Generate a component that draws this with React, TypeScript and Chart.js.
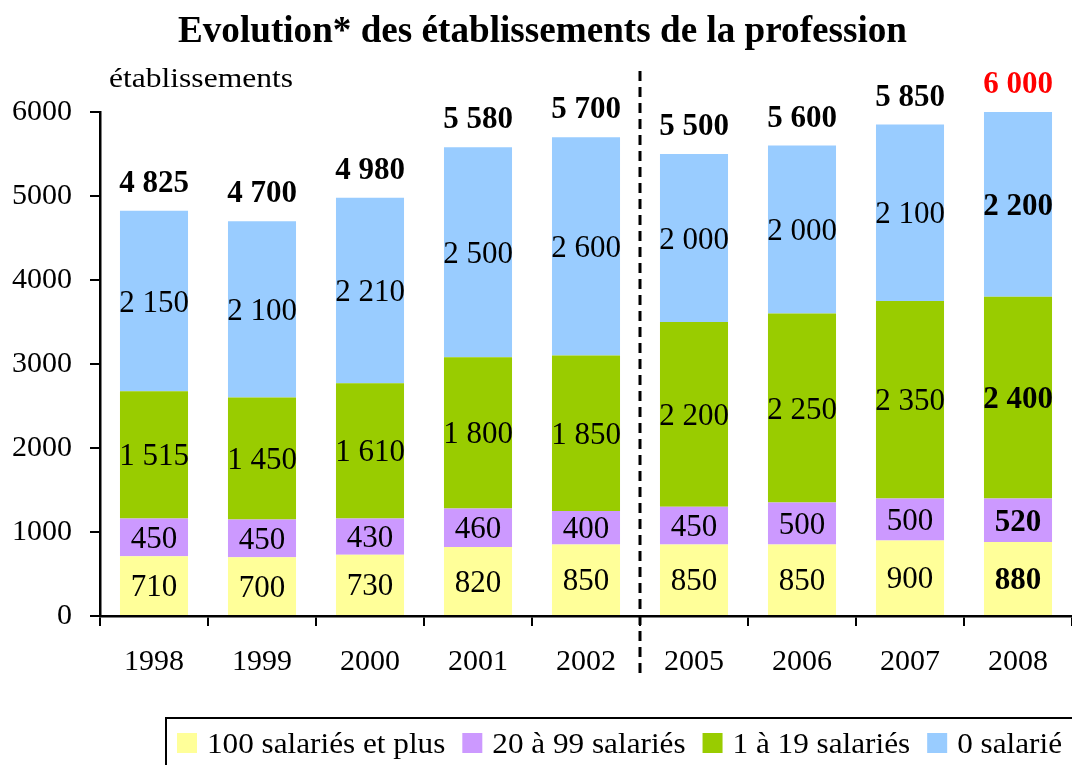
import React, { useEffect, useRef } from "react";
import { Chart, registerables } from "chart.js";

Chart.register(...registerables);

const years = ["1998", "1999", "2000", "2001", "2002", "2005", "2006", "2007", "2008"];
const s100plus = [710, 700, 730, 820, 850, 850, 850, 900, 880];
const s20to99 = [450, 450, 430, 460, 400, 450, 500, 500, 520];
const s1to19 = [1515, 1450, 1610, 1800, 1850, 2200, 2250, 2350, 2400];
const s0 = [2150, 2100, 2210, 2500, 2600, 2000, 2000, 2100, 2200];
const totals = [4825, 4700, 4980, 5580, 5700, 5500, 5600, 5850, 6000];
const seriesNames = ["100 salariés et plus", "20 à 99 salariés", "1 à 19 salariés", "0 salarié"];
const seriesColors = ["#FFFF99", "#CC99FF", "#99CC00", "#99CCFF"];
const yMin = 0;
const yMax = 6000;
const yStep = 1000;
const titleText = "Evolution* des établissements de la profession";
const yAxisTitle = "établissements";
const highlightIndex = 8;
const breakAfterIndex = 4;

const SERIF = "'Liberation Serif', 'Times New Roman', serif";

const fmt = (n: number) => String(n).replace(/\B(?=(\d{3})+(?!\d))/g, " ");

function drawFitted(
  ctx: CanvasRenderingContext2D,
  text: string,
  x: number,
  y: number,
  font: string,
  align: "left" | "center",
  targetWidth?: number
) {
  ctx.save();
  ctx.font = font;
  ctx.textBaseline = "alphabetic";
  ctx.textAlign = "left";
  const w = ctx.measureText(text).width;
  const sx = targetWidth ? targetWidth / w : 1;
  const drawW = w * sx;
  const left = align === "center" ? x - drawW / 2 : x;
  ctx.translate(left, y);
  ctx.scale(sx, 1);
  ctx.fillText(text, 0, 0);
  ctx.restore();
}

const overlayPlugin = {
  id: "overlay",
  afterDraw(chart: any) {
    const ctx: CanvasRenderingContext2D = chart.ctx;
    const xs = chart.scales.x;
    ctx.save();

    // Title
    ctx.fillStyle = "#000";
    drawFitted(ctx, titleText, 542.5, 42, `bold 37px ${SERIF}`, "center", 729);
    // Axis title
    drawFitted(ctx, yAxisTitle, 109, 87, `27px ${SERIF}`, "left", 184);

    // Dashed separator
    const xb = (xs.getPixelForValue(breakAfterIndex) + xs.getPixelForValue(breakAfterIndex + 1)) / 2;
    ctx.save();
    ctx.strokeStyle = "#000";
    ctx.lineWidth = 3;
    ctx.setLineDash([10, 6]);
    ctx.beginPath();
    ctx.moveTo(xb, 71);
    ctx.lineTo(xb, 676);
    ctx.stroke();
    ctx.restore();

    // Segment labels
    chart.data.datasets.forEach((ds: any, di: number) => {
      const meta = chart.getDatasetMeta(di);
      meta.data.forEach((el: any, i: number) => {
        const p = el.getProps(["x", "y", "base"], true);
        const cy = (p.y + p.base) / 2;
        const bold = i === highlightIndex ? "bold " : "";
        ctx.fillStyle = "#000";
        drawFitted(ctx, fmt(ds.data[i]), p.x, cy + 10.5, `${bold}31px ${SERIF}`, "center");
      });
    });

    // Totals
    const topMeta = chart.getDatasetMeta(chart.data.datasets.length - 1);
    topMeta.data.forEach((el: any, i: number) => {
      const p = el.getProps(["x", "y"], true);
      ctx.fillStyle = i === highlightIndex ? "#FF0000" : "#000";
      drawFitted(ctx, fmt(totals[i]), p.x, p.y - 19, `bold 31px ${SERIF}`, "center");
    });

    // Legend
    const lx0 = 166;
    const ly0 = 718;
    ctx.strokeStyle = "#000";
    ctx.lineWidth = 2;
    ctx.strokeRect(lx0, ly0, 1072 - lx0 + 10, 100);
    const legendFont = `29px ${SERIF}`;
    ctx.font = legendFont;
    const widths = seriesNames.map((n) => ctx.measureText(n).width);
    const sq = 20;
    const gapSqText = 10;
    const gapItem = 17;
    const startX = 177;
    const endX = 1062;
    const fixed = seriesNames.length * (sq + gapSqText) + (seriesNames.length - 1) * gapItem;
    const sx = (endX - startX - fixed) / widths.reduce((a, b) => a + b, 0);
    let cx = startX;
    seriesNames.forEach((n, i) => {
      ctx.fillStyle = seriesColors[i];
      ctx.fillRect(cx, 733, sq, sq);
      ctx.fillStyle = "#000";
      drawFitted(ctx, n, cx + sq + gapSqText, 753, legendFont, "left", widths[i] * sx);
      cx += sq + gapSqText + widths[i] * sx + gapItem;
    });

    ctx.restore();
  },
};

export default function App() {
  const ref = useRef<HTMLCanvasElement | null>(null);

  useEffect(() => {
    if (!ref.current) return;
    const seriesData = [s100plus, s20to99, s1to19, s0];
    const chart = new Chart(ref.current, {
      type: "bar",
      data: {
        labels: years,
        datasets: seriesData.map((d, i) => ({
          label: seriesNames[i],
          data: d,
          backgroundColor: seriesColors[i],
          borderWidth: 0,
          barPercentage: 0.63,
          categoryPercentage: 1,
        })),
      },
      options: {
        animation: false,
        responsive: false,
        maintainAspectRatio: false,
        layout: { padding: { top: 112, left: 0, right: 0, bottom: 0 } },
        plugins: {
          legend: { display: false },
          title: { display: false },
          tooltip: { enabled: false },
        },
        scales: {
          x: {
            stacked: true,
            grid: {
              display: true,
              drawOnChartArea: false,
              drawTicks: true,
              tickLength: 10,
              color: "#000",
              lineWidth: 2,
              offset: true,
            },
            border: { display: true, color: "#000", width: 2.5 },
            ticks: { color: "#000", font: { family: SERIF, size: 30 }, padding: 18 },
            afterFit: (s: any) => {
              s.height = 149;
            },
          },
          y: {
            stacked: true,
            min: yMin,
            max: yMax,
            ticks: {
              stepSize: yStep,
              color: "#000",
              font: { family: SERIF, size: 30 },
              padding: 18,
              callback: (v: any) => String(v),
            },
            grid: { drawOnChartArea: false, tickLength: 10, color: "#000", lineWidth: 2 },
            border: { display: true, color: "#000", width: 2.5 },
            afterFit: (s: any) => {
              s.width = 100;
            },
          },
        },
      } as any,
      plugins: [overlayPlugin],
    });
    return () => chart.destroy();
  }, []);

  return (
    <div style={{ position: "absolute", left: 0, top: 0, width: 1072, height: 765, background: "#fff" }}>
      <canvas ref={ref} width={1072} height={765} style={{ display: "block" }} />
    </div>
  );
}
